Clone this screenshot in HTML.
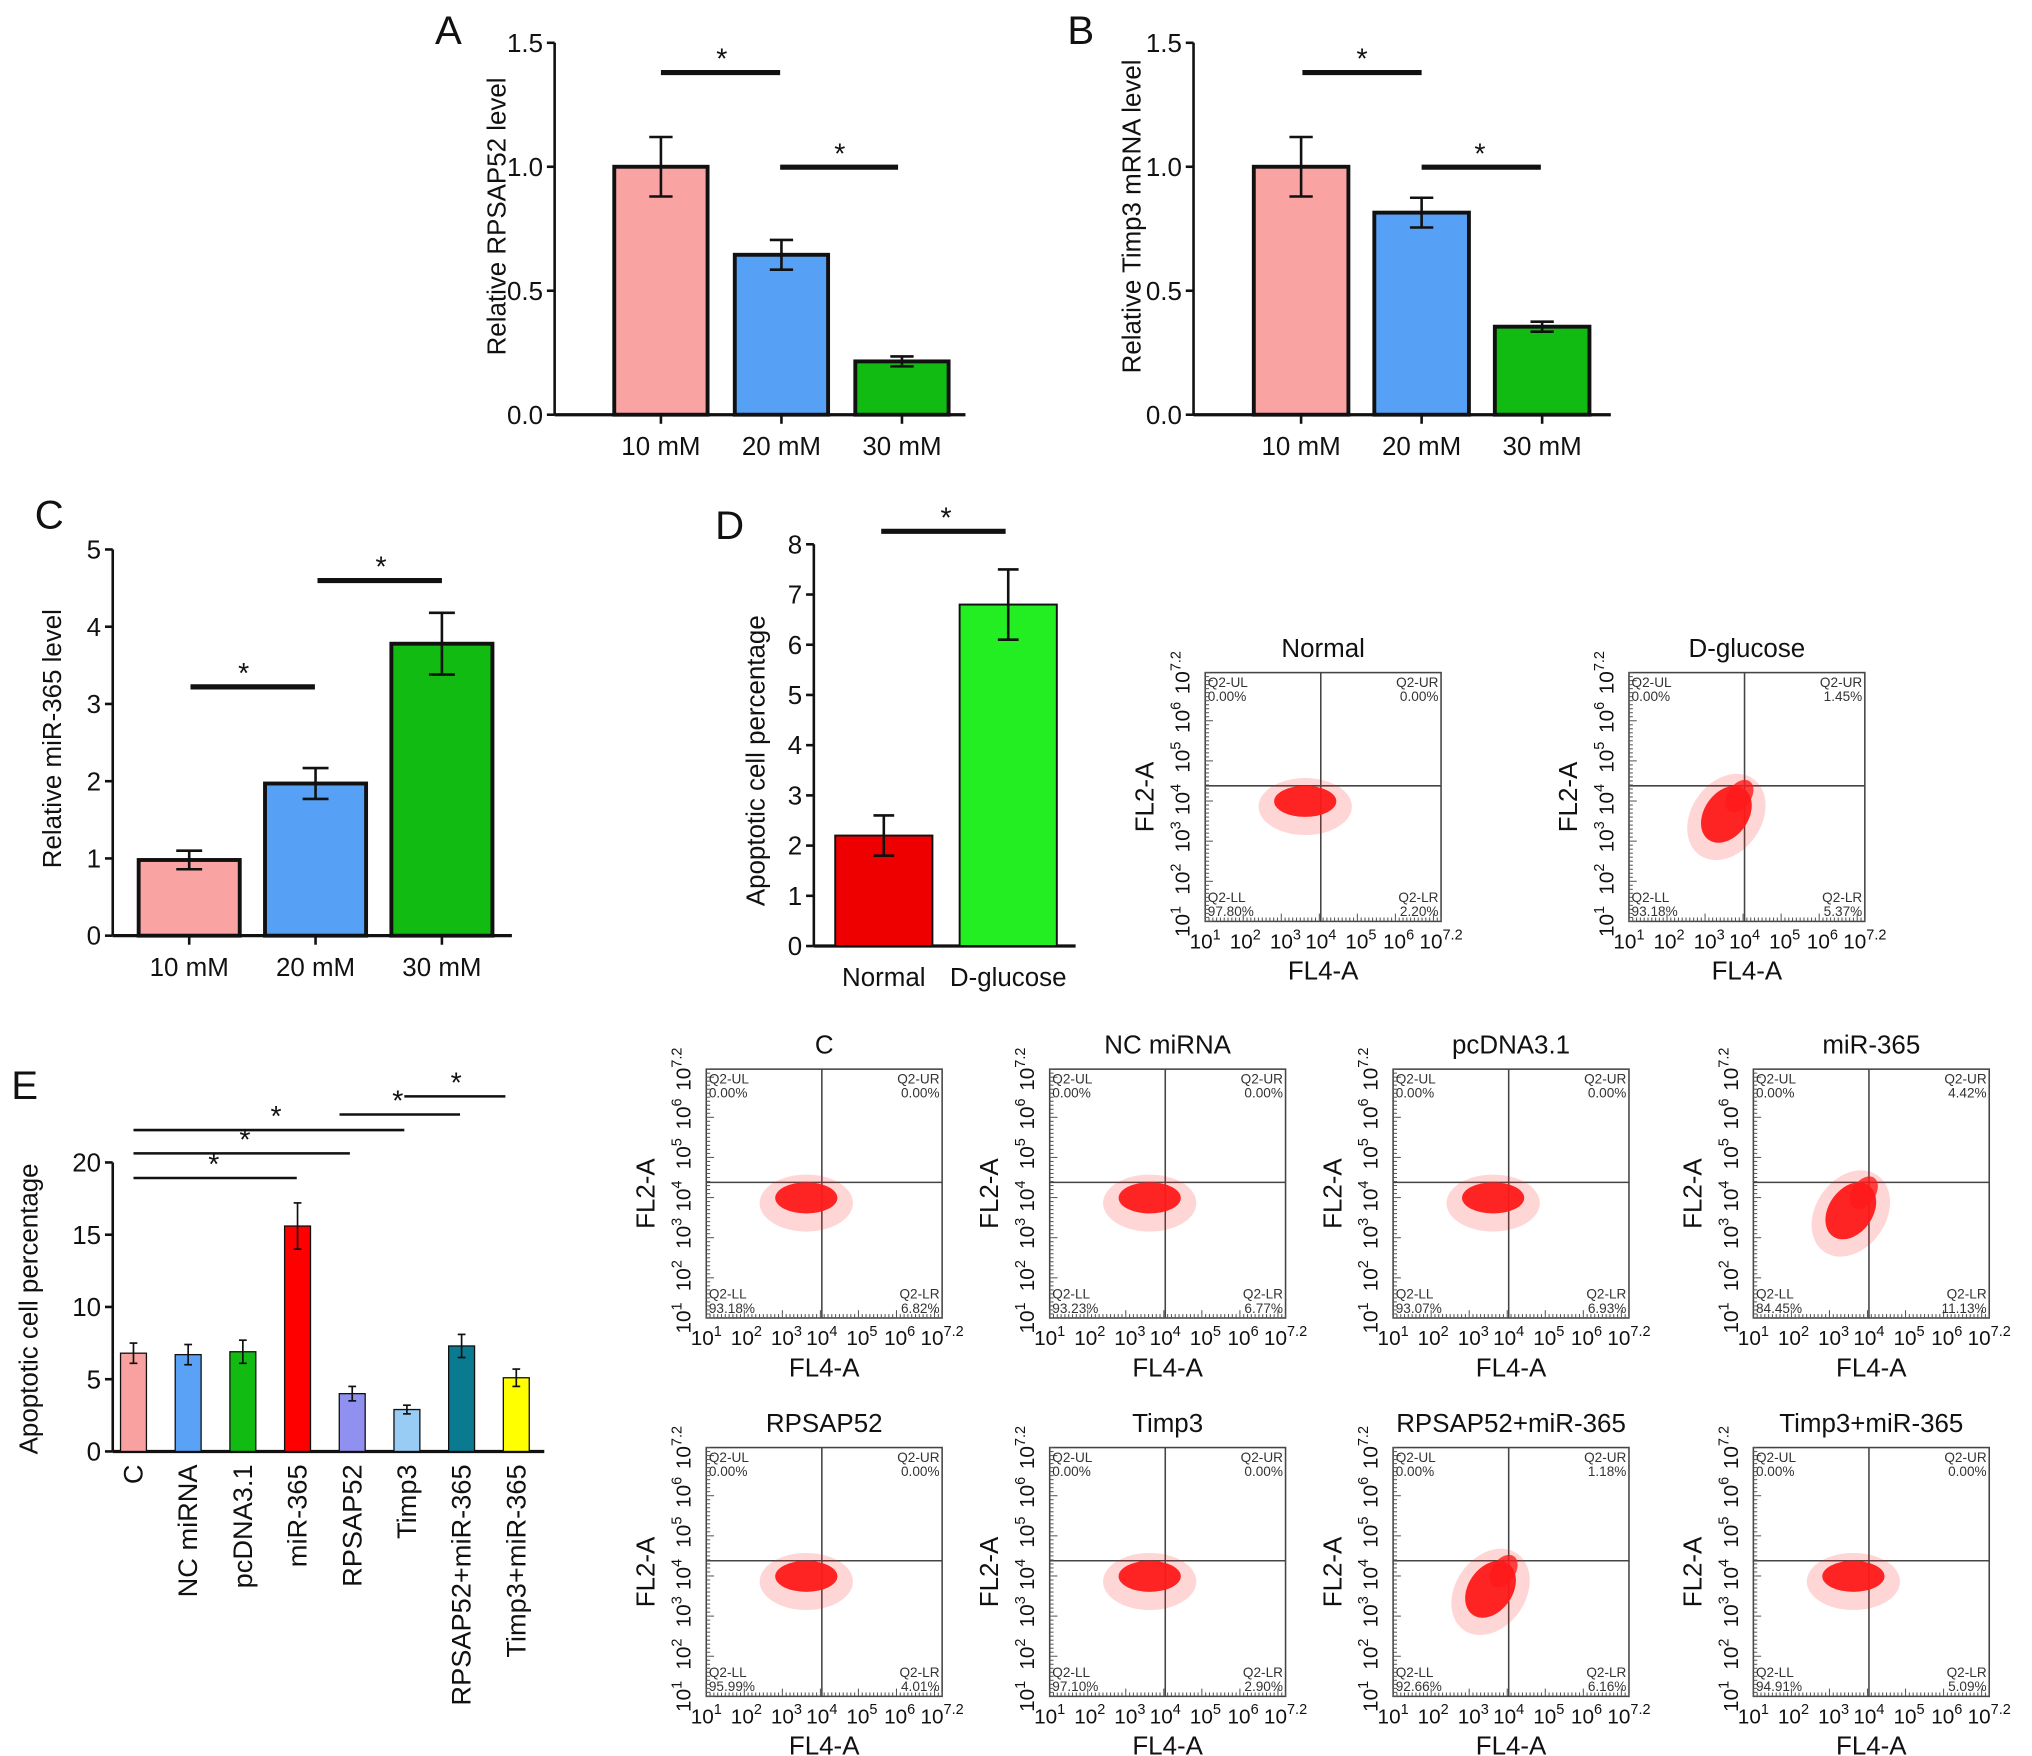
<!DOCTYPE html>
<html><head><meta charset="utf-8">
<style>
html,body{margin:0;padding:0;background:#fff;}
svg{display:block;font-family:"Liberation Sans",Arial,sans-serif;}
</style></head>
<body>
<svg id="fig" width="2032" height="1756" viewBox="0 0 1568 1355" xmlns="http://www.w3.org/2000/svg"></svg>
<script>
// ---------- data ----------
const catsABC = ["10 mM","20 mM","30 mM"];
const colorsABC = ["#f9a3a3","#56a0f5","#11bb11"];
const valsA = [1.0,0.645,0.215];
const errA = [0.12,0.06,0.02];
const ticksA = [0,0.5,1.0,1.5];
const valsB = [1.0,0.815,0.355];
const errB = [0.12,0.06,0.02];
const valsC = [0.98,1.97,3.78];
const errC = [0.12,0.2,0.4];
const ticksC = [0,1,2,3,4,5];
const catsD = ["Normal","D-glucose"];
const valsD = [2.2,6.8];
const errD = [0.4,0.7];
const ticksD = [0,1,2,3,4,5,6,7,8];
const catsE = ["C","NC miRNA","pcDNA3.1","miR-365","RPSAP52","Timp3","RPSAP52+miR-365","Timp3+miR-365"];
const valsE = [6.8,6.7,6.9,15.6,4.0,2.9,7.3,5.1];
const errE = [0.7,0.7,0.8,1.6,0.5,0.3,0.8,0.6];
const ticksE = [0,5,10,15,20];
const colorsE = ["#f9a0a0","#5aa2f5","#11bb11","#ff0000","#9090f0","#99ccf5","#0a7a90","#ffff00"];

const S = document.getElementById('fig');
const NS = "http://www.w3.org/2000/svg";
function el(tag, attrs, parent){
  const e = document.createElementNS(NS, tag);
  for (const k in attrs) e.setAttribute(k, attrs[k]);
  (parent||S).appendChild(e); return e;
}
function txt(x,y,s,size,anchor,parent,rot){
  const t = el('text',{x:x,y:y,'font-size':size,'text-anchor':anchor||'middle',fill:'#111'},parent);
  if(rot) t.setAttribute('transform',`rotate(${rot} ${x} ${y})`);
  t.textContent = s; return t;
}

function barChart(o){
  const g = el('g',{});
  
  
  const y = v => o.y0 - (v - 0)/(o.ymax) * (o.y0 - o.y1);
  el('line',{x1:o.ax,y1:o.y1,x2:o.ax,y2:o.y0,stroke:'#111','stroke-width':2},g);
  el('line',{x1:o.ax,y1:o.y0,x2:o.axEnd,y2:o.y0,stroke:'#111','stroke-width':2.5},g);
  o.ticks.forEach(t=>{
    el('line',{x1:o.ax-6,y1:y(t),x2:o.ax,y2:y(t),stroke:'#111','stroke-width':2},g);
    const lab = txt(o.ax-9,y(t)+7,o.tickFmt?o.tickFmt(t):String(t),o.tickSize||20,'end',g);
    
    
  });
  o.vals.forEach((v,i)=>{
    const cx = o.x0 + i*o.step;
    const r = el('rect',{x:cx-o.bw/2,y:y(v),width:o.bw,height:o.y0-y(v),fill:o.colors[i],stroke:'#111','stroke-width':o.sw||3},g);
    
    
    const e = o.errs[i];
    el('line',{x1:cx,y1:y(v+e),x2:cx,y2:y(v-e),stroke:'#111','stroke-width':o.esw||2},g);
    el('line',{x1:cx-o.cap,y1:y(v+e),x2:cx+o.cap,y2:y(v+e),stroke:'#111','stroke-width':o.esw||2},g);
    el('line',{x1:cx-o.cap,y1:y(v-e),x2:cx+o.cap,y2:y(v-e),stroke:'#111','stroke-width':o.esw||2},g);
    if(o.xticks) el('line',{x1:cx,y1:o.y0,x2:cx,y2:o.y0+7,stroke:'#111','stroke-width':2},g);
    let lab;
    if(o.rotLabels) lab = txt(cx+7,o.y0+10,o.cats[i],21,'end',g,-90);
    else lab = txt(cx,o.y0+31,o.cats[i],20,'middle',g);
    
    
  });
  const tt = txt(o.titleX,o.titleY,o.title,20,'middle',g,-90);
  
  
  const L = txt(o.letterX,o.letterY,o.letter,31,'middle',g);
  
  
  (o.sig||[]).forEach(s=>{
    const sg = el('g',{},g);
    
    
    el('line',{x1:s[0],y1:s[2],x2:s[1],y2:s[2],stroke:'#111','stroke-width':s[4]||4},sg);
    txt(s[3],s[2]-3,'*',22,'middle',sg);
  });
}

barChart({name:'chart-a',letter:'A',letterX:346,letterY:34,ax:428,axEnd:745,y0:320,y1:33,ymax:1.5,ticks:ticksA,tickFmt:t=>t.toFixed(1),
  vals:valsA,errs:errA,cats:catsABC,colors:colorsABC,x0:510,step:93,bw:72,cap:9,xticks:true,
  title:'Relative RPSAP52 level',titleX:390,titleY:167,sig:[[510,602,56,557],[602,693,129,648]]});
barChart({name:'chart-b',letter:'B',letterX:834,letterY:34,ax:921,axEnd:1243,y0:320,y1:33,ymax:1.5,ticks:ticksA,tickFmt:t=>t.toFixed(1),
  vals:valsB,errs:errB,cats:catsABC,colors:colorsABC,x0:1004,step:93,bw:73,cap:9,xticks:true,
  title:'Relative Timp3 mRNA level',titleX:880,titleY:167,sig:[[1005,1097,56,1051],[1097,1189,129,1142]]});
barChart({name:'chart-c',letter:'C',letterX:38,letterY:408,ax:87,axEnd:395,y0:722,y1:424,ymax:5,ticks:ticksC,
  vals:valsC,errs:errC,cats:catsABC,colors:colorsABC,x0:146,step:97.5,bw:78,cap:10,xticks:true,
  title:'Relative miR-365 level',titleX:47,titleY:570,sig:[[147,243,530,188],[245,341,448,294]]});
barChart({name:'chart-d',letter:'D',letterX:563,letterY:416,ax:628,axEnd:830,y0:730,y1:420,ymax:8,ticks:ticksD,
  vals:valsD,errs:errD,cats:catsD,colors:["#ee0000","#22ee22"],x0:682,step:96,bw:75,cap:8,sw:1.5,
  title:'Apoptotic cell percentage',titleX:590,titleY:587,sig:[[680,776,410,730]]});
barChart({name:'chart-e',letter:'E',letterX:19,letterY:848,ax:87,axEnd:420,y0:1120,y1:897,ymax:20,ticks:ticksE,
  vals:valsE,errs:errE,cats:catsE,colors:colorsE,x0:103,step:42.2,bw:20,cap:3,sw:1,esw:1.3,rotLabels:true,
  title:'Apoptotic cell percentage',titleX:29,titleY:1010,
  sig:[[103,229,909,165,2],[103,270,890,189,2],[103,312,872,213,2],[262,355,860,307,2],[312,390,846,352,2]]});

// ---------- flow cytometry plots ----------
const flowTitles = ["Normal","D-glucose","C","NC miRNA","pcDNA3.1","miR-365","RPSAP52","Timp3","RPSAP52+miR-365","Timp3+miR-365"];
const flowUL = ["0.00%","0.00%","0.00%","0.00%","0.00%","0.00%","0.00%","0.00%","0.00%","0.00%"];
const flowUR = ["0.00%","1.45%","0.00%","0.00%","0.00%","4.42%","0.00%","0.00%","1.18%","0.00%"];
const flowLL = ["97.80%","93.18%","93.18%","93.23%","93.07%","84.45%","95.99%","97.10%","92.66%","94.91%"];
const flowLR = ["2.20%","5.37%","6.82%","6.77%","6.93%","11.13%","4.01%","2.90%","6.16%","5.09%"];
const flowBoxes = [[930,519],[1257,519],[545,825],[810,825],[1075,825],[1353,825],[545,1117],[810,1117],[1075,1117],[1353,1117]];
const flowSkew = [0,1,0,0,0,1,0,0,1,0];

function sup(parent,x,y,base,exp,size,rot){
  const t = el('text',{x:x,y:y,'font-size':size,'text-anchor':'middle',fill:'#111'},parent);
  if(rot) t.setAttribute('transform',`rotate(${rot} ${x} ${y})`);
  t.textContent = base;
  const s = el('tspan',{'font-size':size*0.7,dy:-size*0.45},t); s.textContent = exp;
}
flowTitles.forEach((title,i)=>{
  const [bx,by] = flowBoxes[i];
  const W=182,H=192;
  const g = el('g',{});
  
  
  const vx = bx + W*0.49, hy = by + H*0.455;
  txt(bx+W/2,by-12,title,20,'middle',g);
  el('rect',{x:bx,y:by,width:W,height:H,fill:'none',stroke:'#444','stroke-width':1.2},g);
  el('line',{x1:vx,y1:by,x2:vx,y2:by+H,stroke:'#444','stroke-width':1.2},g);
  el('line',{x1:bx,y1:hy,x2:bx+W,y2:hy,stroke:'#444','stroke-width':1.2},g);
  for(let k=0;k<=62;k++){
    const len = k%10===0?6:3;
    el('line',{x1:bx+k*W/62,y1:by+H,x2:bx+k*W/62,y2:by+H-len,stroke:'#555','stroke-width':0.8},g);
    el('line',{x1:bx,y1:by+H-k*H/62,x2:bx+len,y2:by+H-k*H/62,stroke:'#555','stroke-width':0.8},g);
  }
  const exps = ["1","2","3","4","5","6","7.2"];
  const xs = [0,0.17,0.34,0.49,0.66,0.82,1.0];
  exps.forEach((e,k)=>{
    sup(g,bx+xs[k]*W,by+H+21,"10",e,16);
    sup(g,bx-12,by+H-xs[k]*H,"10",e,16,-90);
  });
  txt(bx+W/2,by+H+45,'FL4-A',20,'middle',g);
  txt(bx-40,by+H/2,'FL2-A',20,'middle',g,-90);
  const q = (x,y,a,l1,l2)=>{ txt(x,y,l1,10.5,a,g).setAttribute('fill','#333'); txt(x,y+11,l2,10.5,a,g).setAttribute('fill','#333'); };
  q(bx+2,by+11,'start','Q2-UL',flowUL[i]);
  q(bx+W-2,by+11,'end','Q2-UR',flowUR[i]);
  q(bx+2,by+H-15,'start','Q2-LL',flowLL[i]);
  q(bx+W-2,by+H-15,'end','Q2-LR',flowLR[i]);
  const cg = el('g',{fill:'#ff1a1a'},g);
  
  
  if(flowSkew[i]){
    el('ellipse',{cx:vx-14,cy:hy+22,rx:17,ry:24,transform:`rotate(35 ${vx-14} ${hy+22})`,opacity:0.95},cg);
    el('ellipse',{cx:vx-4,cy:hy+8,rx:9,ry:14,transform:`rotate(35 ${vx-4} ${hy+8})`,opacity:0.8},cg);
    el('ellipse',{cx:vx-14,cy:hy+24,rx:27,ry:36,transform:`rotate(35 ${vx-14} ${hy+24})`,opacity:0.18},cg);
  } else {
    el('ellipse',{cx:vx-12,cy:hy+12,rx:24,ry:12,opacity:0.95},cg);
    el('ellipse',{cx:vx-12,cy:hy+16,rx:36,ry:22,opacity:0.18},cg);
  }
});
</script>
</body></html>
